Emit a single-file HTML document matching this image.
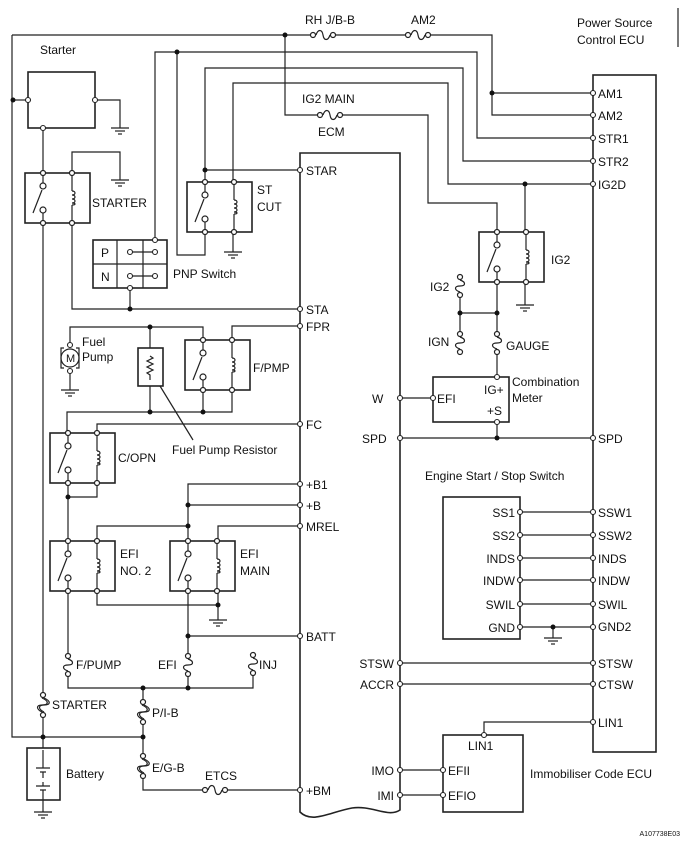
<!DOCTYPE html>
<html><head><meta charset="utf-8"><style>
html,body{margin:0;padding:0;background:#fff;}
svg{display:block;}
text{font-family:"Liberation Sans",sans-serif;font-size:12px;fill:#111;}
</style></head><body>
<svg width="685" height="846" viewBox="0 0 685 846" xmlns="http://www.w3.org/2000/svg">
<defs>
<g id="relay" fill="none" stroke="#222" stroke-width="1.2">
<rect x="0" y="0" width="65" height="50" stroke-width="1.6"/>
<line x1="18" y1="0" x2="18" y2="10"/><circle cx="18" cy="13" r="3" fill="#fff"/>
<circle cx="18" cy="37" r="3" fill="#fff"/><line x1="18" y1="40" x2="18" y2="50"/>
<line x1="8" y1="40" x2="17" y2="17"/>
<line x1="47" y1="0" x2="47" y2="18"/>
<path d="M47,18 c4,0 4,4 0,4 c4,0 4,4 0,4 c4,0 4,4 0,4 c4,0 4,2 0,2"/>
<line x1="47" y1="32" x2="47" y2="50"/>
<circle cx="18" cy="0" r="2.5" fill="#fff"/><circle cx="47" cy="0" r="2.5" fill="#fff"/>
<circle cx="18" cy="50" r="2.5" fill="#fff"/><circle cx="47" cy="50" r="2.5" fill="#fff"/>
</g>
<g id="fv" fill="none" stroke="#222" stroke-width="1.2">
<rect x="-4" y="1" width="8" height="16" fill="#fff" stroke="none"/>
<path d="M0,3 C6,5 6,9 0,9 C-6,9 -6,13 0,15"/>
<circle cx="0" cy="0" r="2.5" fill="#fff"/><circle cx="0" cy="18" r="2.5" fill="#fff"/>
</g>
<g id="fl" fill="none" stroke="#222" stroke-width="1.2">
<rect x="-5" y="1" width="10" height="18" fill="#fff" stroke="none"/>
<path d="M-1,3 C6,6 6,10 -1,10 C-7,10 -7,14 -1,17"/>
<path d="M1,3 C8,6 8,10 1,10 C-5,10 -5,14 1,17"/>
<circle cx="0" cy="0" r="2.5" fill="#fff"/><circle cx="0" cy="20" r="2.5" fill="#fff"/>
</g>
<g id="fh" fill="none" stroke="#222" stroke-width="1.2">
<rect x="1" y="-4" width="18" height="8" fill="#fff" stroke="none"/>
<path d="M3,0 C5,-6 9,-6 10,0 C11,6 15,6 17,0"/>
<circle cx="0" cy="0" r="2.5" fill="#fff"/><circle cx="20" cy="0" r="2.5" fill="#fff"/>
</g>
<g id="gnd" stroke="#222" stroke-width="1.2">
<line x1="-9" y1="0" x2="9" y2="0"/><line x1="-5" y1="3" x2="5" y2="3"/><line x1="-2" y1="6" x2="2" y2="6"/>
</g>
</defs>

<g fill="none" stroke="#222" stroke-width="1.2">
<!-- top wires -->
<path d="M12,35 H492 V115 H593"/>
<path d="M492,93 H593"/>
<path d="M12,35 V737 H143"/>
<path d="M285,35 V115 H428 V203 H497 V232"/>
<path d="M155,240 V52 H477 V138 H593"/>
<path d="M177,52 V255 H205 V232"/>
<path d="M205,182 V68 H463 V161 H593"/>
<path d="M205,170 H300"/>
<path d="M233,182 V83 H448 V184 H593"/>
<path d="M525,184 V232"/>
<!-- starter -->
<rect x="28" y="72" width="67" height="56" stroke-width="1.6"/>
<path d="M13,100 H28"/>
<path d="M95,100 H120 V128"/>
<path d="M43,128 V173"/>
<path d="M72,173 V152 H120 V180"/>
<path d="M43,223 V748"/>
<path d="M72,223 V309 H300"/>
<path d="M130,309 V288"/>
<!-- PNP -->
<rect x="93" y="240" width="74" height="48" stroke-width="1.6"/>
<path d="M117,240 V288 M143,240 V288 M93,264 H167"/>
<path d="M130,252 H155 M130,276 H155"/>
<path d="M233,232 V252"/>
<!-- ECM -->
<path d="M300,153 H400 V810 C388,818 372,805 352,808 C330,812 312,824 300,812 Z" stroke-width="1.6"/>
<rect x="593" y="75" width="63" height="677" stroke-width="1.6"/>
<path d="M678,8 V47"/>
<!-- fuel pump -->
<path d="M300,326 H232 V340"/>
<path d="M70,344 V327 H203 V340"/>
<path d="M150,327 V412"/>
<rect x="138" y="348" width="25" height="38" stroke-width="1.6" fill="#fff"/>
<path d="M150,356 l3,2 -6,3 6,3 -6,3 6,3 -6,3 3,2 V380"/>
<path d="M232,390 V412 H67 V433"/>
<path d="M203,390 V412"/>
<path d="M160,386 L193,440"/>
<circle cx="70" cy="358" r="9"/>
<path d="M64,348 h-3 v20 h3 M76,348 h3 v20 h-3"/>
<path d="M70,372 V390"/>
<!-- C/OPN, EFI -->
<path d="M300,424 H97 V433"/>
<path d="M68,483 V541"/>
<path d="M97,483 V497 H68"/>
<path d="M300,484 H188 V541"/>
<path d="M300,505 H188"/>
<path d="M300,526 H218 V541"/>
<path d="M188,526 H97 V541"/>
<path d="M97,591 V605 H218"/>
<path d="M218,591 V620"/>
<path d="M188,591 V636 H300"/>
<path d="M188,636 V688"/>
<path d="M68,591 V688 H253 V655"/>
<path d="M143,688 V790 H300"/>
<!-- battery -->
<rect x="27" y="748" width="33" height="52" stroke-width="1.6" fill="#fff"/>
<path d="M43,750 V768 M36,768 H50 M40,772 H46 M43,772 V778 M43,782 V786 M36,786 H50 M40,790 H46 M43,790 V812"/>
<!-- right side -->
<path d="M525,282 V305"/>
<path d="M497,282 V377"/>
<path d="M460,298 V332 M460,313 H497"/>
<rect x="433" y="377" width="76" height="45" stroke-width="1.6"/>
<path d="M400,398 H433"/>
<path d="M497,422 V438"/>
<path d="M400,438 H593"/>
<rect x="443" y="497" width="77" height="142" stroke-width="1.6"/>
<path d="M520,512 H593 M520,535 H593 M520,558 H593 M520,580 H593 M520,604 H593 M520,627 H593"/>
<path d="M553,627 V638"/>
<path d="M400,663 H593 M400,684 H593"/>
<path d="M593,722 H484 V735"/>
<rect x="443" y="735" width="80" height="77" stroke-width="1.6"/>
<path d="M400,770 H443 M400,795 H443"/>
</g>

<!-- relays -->
<use href="#relay" x="25" y="173"/>
<use href="#relay" x="187" y="182"/>
<use href="#relay" x="479" y="232"/>
<use href="#relay" x="185" y="340"/>
<use href="#relay" x="50" y="433"/>
<use href="#relay" x="50" y="541"/>
<use href="#relay" x="170" y="541"/>

<!-- fuses -->
<use href="#fh" x="313" y="35"/>
<use href="#fh" x="408" y="35"/>
<use href="#fh" x="320" y="115"/>
<use href="#fh" x="205" y="790"/>
<use href="#fv" x="460" y="277"/>
<use href="#fv" x="460" y="334"/>
<use href="#fv" x="497" y="334"/>
<use href="#fv" x="68" y="656"/>
<use href="#fv" x="188" y="656"/>
<use href="#fv" x="253" y="655"/>
<use href="#fl" x="43" y="695"/>
<use href="#fl" x="143" y="702"/>
<use href="#fl" x="143" y="756"/>

<!-- grounds -->
<use href="#gnd" x="120" y="128"/>
<use href="#gnd" x="120" y="180"/>
<use href="#gnd" x="233" y="252"/>
<use href="#gnd" x="525" y="305"/>
<use href="#gnd" x="70" y="390"/>
<use href="#gnd" x="218" y="620"/>
<use href="#gnd" x="553" y="638"/>
<use href="#gnd" x="43" y="812"/>

<!-- pins (open circles) -->
<g fill="#fff" stroke="#222" stroke-width="1.1">
<circle cx="28" cy="100" r="2.5"/><circle cx="95" cy="100" r="2.5"/><circle cx="43" cy="128" r="2.5"/>
<circle cx="155" cy="240" r="2.5"/><circle cx="130" cy="288" r="2.5"/>
<circle cx="130" cy="252" r="2.5"/><circle cx="155" cy="252" r="2.5"/><circle cx="130" cy="276" r="2.5"/><circle cx="155" cy="276" r="2.5"/>
<circle cx="300" cy="170" r="2.5"/><circle cx="300" cy="309" r="2.5"/><circle cx="300" cy="326" r="2.5"/>
<circle cx="300" cy="424" r="2.5"/><circle cx="300" cy="484" r="2.5"/><circle cx="300" cy="505" r="2.5"/>
<circle cx="300" cy="526" r="2.5"/><circle cx="300" cy="636" r="2.5"/><circle cx="300" cy="790" r="2.5"/>
<circle cx="400" cy="398" r="2.5"/><circle cx="400" cy="438" r="2.5"/><circle cx="400" cy="663" r="2.5"/>
<circle cx="400" cy="684" r="2.5"/><circle cx="400" cy="770" r="2.5"/><circle cx="400" cy="795" r="2.5"/>
<circle cx="593" cy="93" r="2.5"/><circle cx="593" cy="115" r="2.5"/><circle cx="593" cy="138" r="2.5"/>
<circle cx="593" cy="161" r="2.5"/><circle cx="593" cy="184" r="2.5"/><circle cx="593" cy="438" r="2.5"/>
<circle cx="593" cy="512" r="2.5"/><circle cx="593" cy="535" r="2.5"/><circle cx="593" cy="558" r="2.5"/>
<circle cx="593" cy="580" r="2.5"/><circle cx="593" cy="604" r="2.5"/><circle cx="593" cy="627" r="2.5"/>
<circle cx="593" cy="663" r="2.5"/><circle cx="593" cy="684" r="2.5"/><circle cx="593" cy="722" r="2.5"/>
<circle cx="520" cy="512" r="2.5"/><circle cx="520" cy="535" r="2.5"/><circle cx="520" cy="558" r="2.5"/>
<circle cx="520" cy="580" r="2.5"/><circle cx="520" cy="604" r="2.5"/><circle cx="520" cy="627" r="2.5"/>
<circle cx="433" cy="398" r="2.5"/><circle cx="497" cy="377" r="2.5"/><circle cx="497" cy="422" r="2.5"/>
<circle cx="484" cy="735" r="2.5"/><circle cx="443" cy="770" r="2.5"/><circle cx="443" cy="795" r="2.5"/>
<circle cx="70" cy="345" r="2.5"/><circle cx="70" cy="371" r="2.5"/>
</g>
<!-- junction dots -->
<g fill="#111">
<circle cx="13" cy="100" r="2.5"/><circle cx="285" cy="35" r="2.5"/><circle cx="492" cy="93" r="2.5"/>
<circle cx="177" cy="52" r="2.5"/><circle cx="205" cy="170" r="2.5"/><circle cx="525" cy="184" r="2.5"/>
<circle cx="130" cy="309" r="2.5"/><circle cx="150" cy="327" r="2.5"/><circle cx="150" cy="412" r="2.5"/>
<circle cx="203" cy="412" r="2.5"/><circle cx="68" cy="497" r="2.5"/><circle cx="188" cy="505" r="2.5"/>
<circle cx="188" cy="526" r="2.5"/><circle cx="218" cy="605" r="2.5"/><circle cx="188" cy="636" r="2.5"/>
<circle cx="143" cy="688" r="2.5"/><circle cx="188" cy="688" r="2.5"/><circle cx="43" cy="737" r="2.5"/>
<circle cx="143" cy="737" r="2.5"/><circle cx="460" cy="313" r="2.5"/><circle cx="497" cy="313" r="2.5"/>
<circle cx="497" cy="438" r="2.5"/><circle cx="553" cy="627" r="2.5"/>
</g>
<text x="66" y="362" style="font-size:11px">M</text>

<!-- labels -->
<text x="305" y="24">RH J/B-B</text>
<text x="411" y="24">AM2</text>
<text x="577" y="27">Power Source</text>
<text x="577" y="44">Control ECU</text>
<text x="40" y="54">Starter</text>
<text x="302" y="103">IG2 MAIN</text>
<text x="318" y="136">ECM</text>
<text x="306" y="175">STAR</text>
<text x="257" y="194">ST</text>
<text x="257" y="211">CUT</text>
<text x="92" y="207">STARTER</text>
<text x="101" y="257">P</text>
<text x="101" y="281">N</text>
<text x="173" y="278">PNP Switch</text>
<text x="598" y="98">AM1</text>
<text x="598" y="120">AM2</text>
<text x="598" y="143">STR1</text>
<text x="598" y="166">STR2</text>
<text x="598" y="189">IG2D</text>
<text x="551" y="264">IG2</text>
<text x="430" y="291">IG2</text>
<text x="428" y="346">IGN</text>
<text x="506" y="350">GAUGE</text>
<text x="306" y="314">STA</text>
<text x="306" y="331">FPR</text>
<text x="82" y="346">Fuel</text>
<text x="82" y="361">Pump</text>
<text x="253" y="372">F/PMP</text>
<text x="512" y="386">Combination</text>
<text x="512" y="402">Meter</text>
<text x="484" y="394">IG+</text>
<text x="437" y="403">EFI</text>
<text x="487" y="415">+S</text>
<text x="372" y="403">W</text>
<text x="362" y="443">SPD</text>
<text x="598" y="443">SPD</text>
<text x="306" y="429">FC</text>
<text x="172" y="454">Fuel Pump Resistor</text>
<text x="118" y="462">C/OPN</text>
<text x="425" y="480">Engine Start / Stop Switch</text>
<text x="306" y="489">+B1</text>
<text x="306" y="510">+B</text>
<text x="306" y="531">MREL</text>
<g text-anchor="end">
<text x="515" y="517">SS1</text>
<text x="515" y="540">SS2</text>
<text x="515" y="563">INDS</text>
<text x="515" y="585">INDW</text>
<text x="515" y="609">SWIL</text>
<text x="515" y="632">GND</text>
<text x="394" y="668">STSW</text>
<text x="394" y="689">ACCR</text>
<text x="394" y="775">IMO</text>
<text x="394" y="800">IMI</text>
</g>
<text x="598" y="517">SSW1</text>
<text x="598" y="540">SSW2</text>
<text x="598" y="563">INDS</text>
<text x="598" y="585">INDW</text>
<text x="598" y="609">SWIL</text>
<text x="598" y="631">GND2</text>
<text x="120" y="558">EFI</text>
<text x="120" y="575">NO. 2</text>
<text x="240" y="558">EFI</text>
<text x="240" y="575">MAIN</text>
<text x="306" y="641">BATT</text>
<text x="76" y="669">F/PUMP</text>
<text x="158" y="669">EFI</text>
<text x="259" y="669">INJ</text>
<text x="598" y="668">STSW</text>
<text x="598" y="689">CTSW</text>
<text x="52" y="709">STARTER</text>
<text x="152" y="717">P/I-B</text>
<text x="598" y="727">LIN1</text>
<text x="468" y="750">LIN1</text>
<text x="66" y="778">Battery</text>
<text x="152" y="772">E/G-B</text>
<text x="205" y="780">ETCS</text>
<text x="306" y="795">+BM</text>
<text x="448" y="775">EFII</text>
<text x="448" y="800">EFIO</text>
<text x="530" y="778">Immobiliser Code ECU</text>
<text x="680" y="836" text-anchor="end" style="font-size:7px">A107738E03</text>
</svg>
</body></html>
